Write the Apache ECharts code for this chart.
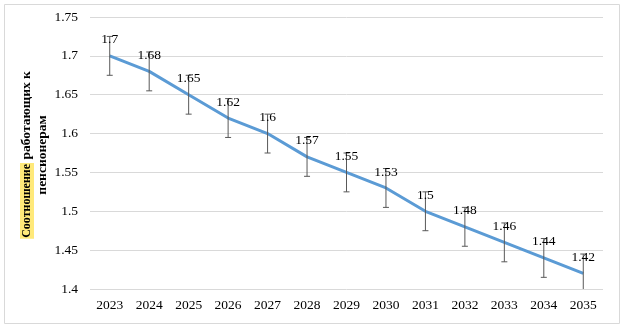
<!DOCTYPE html>
<html><head><meta charset="utf-8">
<script src="https://cdn.jsdelivr.net/npm/echarts@6/dist/echarts.min.js"></script>
<style>html,body{margin:0;padding:0;background:#fff}#c{width:620px;height:324px}</style>
</head><body><div id="c"></div>
<script>
const years = ['2023','2024','2025','2026','2027','2028','2029','2030','2031','2032','2033','2034','2035'];
const ratio = [1.7,1.68,1.65,1.62,1.6,1.57,1.55,1.53,1.5,1.48,1.46,1.44,1.42];
const errorAmount = 0.025;
const yTicks = [1.4,1.45,1.5,1.55,1.6,1.65,1.7,1.75];

const chart = echarts.init(document.getElementById('c'));
const serif = '"Liberation Serif","Times New Roman",serif';
chart.setOption({
  animation:false,
  graphic:[
    {type:'rect',left:2,top:2,shape:{width:615,height:319},style:{fill:'none',stroke:'#d9d9d9',lineWidth:1}},
    {type:'text',x:35,y:155,rotation:Math.PI/2,
      style:{text:'{hl|Соотношение}{n| работающих к}\n{n|пенсионерам}',align:'center',verticalAlign:'middle',
        font:'bold 13px '+serif,fill:'#000',lineHeight:16,
        rich:{hl:{backgroundColor:'#ffe97a',font:'bold 12px '+serif,fill:'#000',padding:[1,1,1,1],lineHeight:16},
              n:{font:'bold 13.5px '+serif,fill:'#000',lineHeight:16}}}}
  ],
  grid:{left:90,right:17,top:17,bottom:35},
  xAxis:{type:'category',data:years,boundaryGap:true,
    axisLine:{show:false},axisTick:{show:false},
    axisLabel:{fontFamily:serif,fontSize:13.5,color:'#000',margin:9}},
  yAxis:{type:'value',min:1.4,max:1.75,interval:0.05,
    axisLine:{show:false},axisTick:{show:false},
    splitLine:{lineStyle:{color:'#d9d9d9'}},
    axisLabel:{fontFamily:serif,fontSize:13.5,color:'#000',margin:12,
      formatter:v=>{const t=yTicks.find(x=>Math.abs(x-v)<1e-6);return t===undefined?'':String(t);}}},
  series:[
    {type:'line',data:ratio,symbol:'none',lineStyle:{color:'#5b9bd5',width:3},z:2},
    {type:'custom',z:3,
      renderItem:function(params,api){
        const i=api.value(0), v=api.value(1);
        const lo=Math.max(v-errorAmount,1.4), hi=v+errorAmount;
        const pTop=api.coord([i,hi]), pBot=api.coord([i,lo]), pMid=api.coord([i,v]);
        const x=pTop[0];
        const st={stroke:'#595959',lineWidth:1};
        const ch=[{type:'line',shape:{x1:x,y1:pTop[1],x2:x,y2:pBot[1]},style:st},
                  {type:'line',shape:{x1:x-3,y1:pTop[1],x2:x+3,y2:pTop[1]},style:st}];
        if(v-errorAmount>=1.4-1e-9) ch.push({type:'line',shape:{x1:x-3,y1:pBot[1],x2:x+3,y2:pBot[1]},style:st});
        ch.push({type:'text',x:x,y:pMid[1]-16,z2:10,
          style:{text:String(v),align:'center',verticalAlign:'middle',font:'13.5px '+serif,fill:'#000'}});
        return {type:'group',children:ch};
      },
      data:ratio.map((v,i)=>[i,v])}
  ]
});
</script></body></html>
